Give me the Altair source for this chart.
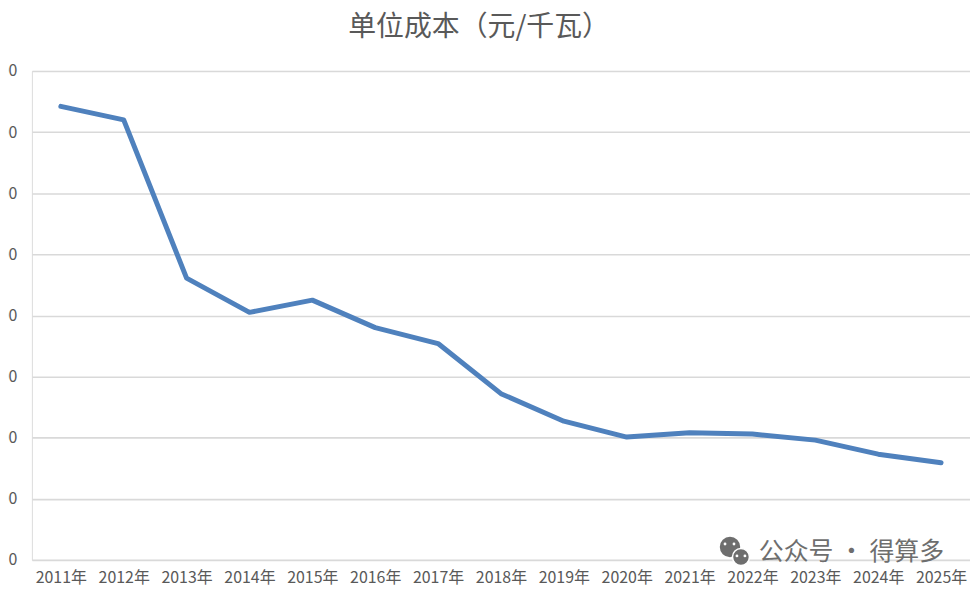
import altair as alt
import pandas as pd

years = ["2011年", "2012年", "2013年", "2014年", "2015年", "2016年", "2017年", "2018年",
         "2019年", "2020年", "2021年", "2022年", "2023年", "2024年", "2025年"]
unit_cost = [7420, 7200, 4610, 4050, 4250, 3800, 3540, 2720,
             2270, 2010, 2080, 2060, 1960, 1730, 1590]
y_ticks = [0, 1000, 2000, 3000, 4000, 5000, 6000, 7000, 8000]
title_text = "单位成本（元/千瓦）"
watermark_text = "公众号 · 得算多"

df = pd.DataFrame({"year": years, "cost": unit_cost})
one = pd.DataFrame({"k": [0]})

FONT = "Noto Sans CJK SC"
GRAY = "#595959"

line = alt.Chart(df).mark_line(color="#4f81bd", strokeWidth=5, strokeCap="round",
                               strokeJoin="round").encode(
    x=alt.X("year:O", sort=years,
            scale=alt.Scale(type="point", padding=0.46),
            axis=alt.Axis(title=None, labelAngle=0, domain=False, ticks=False, grid=False,
                          labelPadding=10, labelFontSize=16, labelColor=GRAY, labelFont=FONT)),
    y=alt.Y("cost:Q", scale=alt.Scale(domain=[0, 8000], nice=False),
            axis=alt.Axis(title=None, values=y_ticks, domain=False, ticks=False, grid=True,
                          gridColor="#d9d9d9", gridWidth=1.6, labelPadding=15,
                          labelFontSize=16, labelColor=GRAY, labelFont=FONT)),
)

title = alt.Chart(one).mark_text(text=title_text, font=FONT, fontSize=28, color=GRAY,
                                 align="center", baseline="middle").encode(
    x=alt.value(449), y=alt.value(-43))

wm_color = "#6e6e6e"
wm = alt.Chart(one).mark_text(text=watermark_text, font=FONT, fontSize=25, color=wm_color,
                              align="center", baseline="middle").encode(
    x=alt.value(823), y=alt.value(483))

big = alt.Chart(one).mark_point(shape="circle", filled=True, size=420, color=wm_color,
                                opacity=1).encode(x=alt.value(701), y=alt.value(478))
small = alt.Chart(one).mark_point(shape="circle", filled=True, size=290, color=wm_color,
                                  stroke="white", strokeWidth=1.5, opacity=1).encode(
    x=alt.value(712), y=alt.value(488))
eyes = []
for ex, ey in [(696, 475), (705, 475), (708, 487), (716, 487)]:
    eyes.append(alt.Chart(one).mark_point(shape="circle", filled=True, size=8, color="white",
                                          opacity=1).encode(x=alt.value(ex), y=alt.value(ey)))

chart = alt.layer(line, title, big, small, *eyes, wm).properties(
    width=942, height=491,
    autosize=alt.AutoSizeParams(type="none"),
    padding={"left": 24, "top": 62, "right": 0, "bottom": 28},
).configure_view(stroke=None).configure(background="white")

chart.save("out.html", embed_options={"renderer": "svg", "actions": False})
